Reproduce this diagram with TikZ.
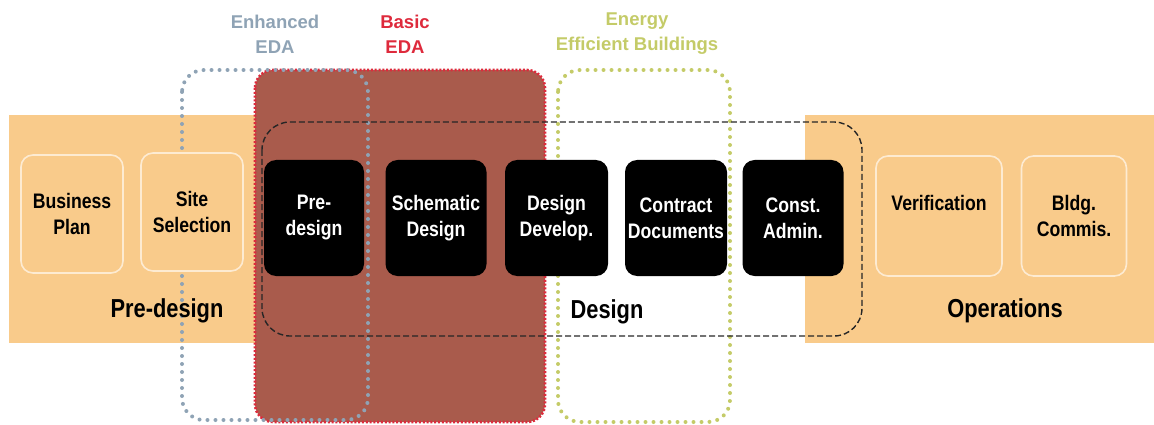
\documentclass[tikz,border=0pt]{standalone}
\usepackage{fontspec}
\setmainfont{Liberation Sans}[FakeStretch=0.84]
\newfontfamily\widesans{Liberation Sans}
\definecolor{bandor}{HTML}{F9CB8B}
\definecolor{creamline}{HTML}{FDEBD2}
\definecolor{brick}{HTML}{A95B4C}
\definecolor{basicred}{HTML}{DE2A3C}
\definecolor{enhblue}{HTML}{8FA3B5}
\definecolor{energygreen}{HTML}{C4CB68}
\tikzset{
  band/.style={fill=bandor, draw=none},
  lightbox/.style={draw=creamline, line width=1.6, fill=bandor, rounded corners=12,
    font=\bfseries\fontsize{21}{26}\selectfont, align=center, inner sep=0pt},
  darkbox/.style={fill=black, draw=none, rounded corners=12, text=white,
    font=\bfseries\fontsize{21}{26}\selectfont, align=center, inner sep=0pt},
  phase/.style={font=\bfseries\fontsize{26}{30}\selectfont, inner sep=0pt},
  toplabel/.style={font=\widesans\bfseries\fontsize{18.5}{25}\selectfont, align=center, inner sep=0pt},
  dotline/.style={line width=4, line cap=round, dash pattern=on 0pt off 8pt},
}
\begin{document}
\begin{tikzpicture}[x=1pt,y=-1pt]
\useasboundingbox (0,0) rectangle (1154,425);
% orange bands
\path[band] (9,115) rectangle (262,343);
\path[band] (805,115) rectangle (1154,343);
% basic EDA box
\draw[fill=brick, draw=basicred, line width=2.6, dash pattern=on 2pt off 1.8pt, rounded corners=18]
  (255,70) rectangle (545,422);
% dotted regions
\draw[dotline, enhblue, rounded corners=22] (182,70) rectangle (368,420);
\draw[dotline, energygreen, rounded corners=22] (558,70) rectangle (730,422);
% design dashed box
\draw[black!85, line width=1.4, dash pattern=on 6pt off 3pt, rounded corners=28]
  (262,122) rectangle (862,336);
% light boxes
\node[lightbox, minimum width=102, minimum height=118] (bp) at (72,214) {Business\\Plan};
\node[lightbox, minimum width=102, minimum height=118] (ss) at (192,212) {Site\\Selection};
\node[lightbox, minimum width=126, minimum height=120] (ver) at (939,216) {Verification\\\phantom{X}};
\node[lightbox, minimum width=105, minimum height=120] (bc) at (1074,216) {Bldg.\\Commis.};
% dark boxes
\node[darkbox, minimum width=100, minimum height=116] (pd) at (314,218) {Pre-\\design};
\node[darkbox, minimum width=101, minimum height=116] (sd) at (436,218) {Schematic\\Design};
\node[darkbox, minimum width=103, minimum height=116] (dd) at (556.5,218) {Design\\Develop.};
\node[darkbox, minimum width=102, minimum height=116] (cd) at (676,218) {Contract\\Documents};
\node[darkbox, minimum width=101, minimum height=116] (ca) at (793,218) {Const.\\Admin.};
% phase labels
\node[phase] (lpre) at (167,311) {Pre-design};
\node[phase] (ldes) at (607,312) {Design};
\node[phase] (lops) at (1005,311) {Operations};
% top labels
\node[toplabel, text=enhblue] (tenh) at (275,34) {Enhanced\\EDA};
\node[toplabel, text=basicred] (tbas) at (405,34) {Basic\\EDA};
\node[toplabel, text=energygreen] (tene) at (637,34) {Energy\\Efficient Buildings};
\end{tikzpicture}
\end{document}
